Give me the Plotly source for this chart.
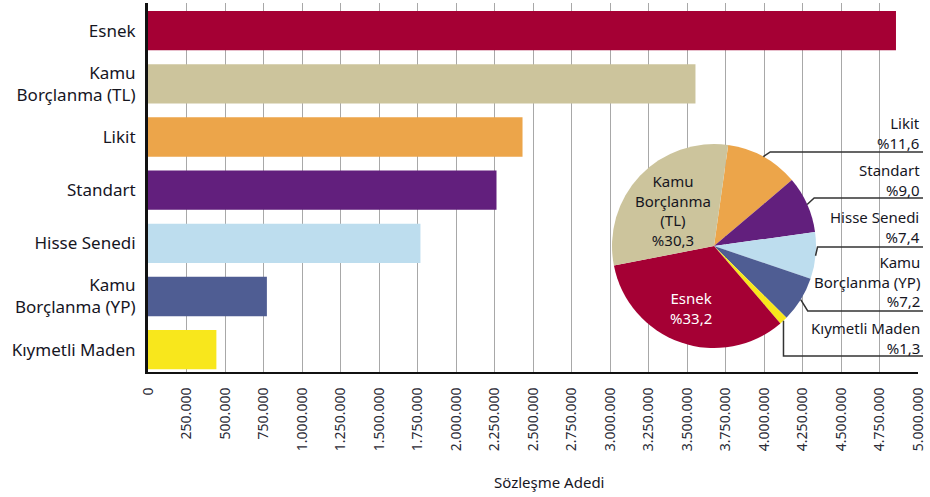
import math
import plotly.graph_objects as go

# ---- data ----
categories = ["Esnek", "Kamu<br>Borçlanma (TL)", "Likit", "Standart", "Hisse Senedi",
              "Kamu<br>Borçlanma (YP)", "Kıymetli Maden"]
contracts = [4857000, 3555000, 2432000, 2263000, 1769000, 772000, 444000]
bar_colors = ["#A50034", "#CCC49C", "#ECA54A", "#621F7D", "#BDDDEE", "#4F5D93", "#F8E71C"]

pie_labels = ["Likit", "Standart", "Hisse Senedi", "Kamu Borçlanma (YP)",
              "Kıymetli Maden", "Esnek", "Kamu Borçlanma (TL)"]
pie_share = [11.6, 9.0, 7.4, 7.2, 1.3, 33.2, 30.3]
pie_colors = ["#ECA54A", "#621F7D", "#BDDDEE", "#4F5D93", "#F8E71C", "#A50034", "#CCC49C"]
pie_text = ["Likit<br>%11,6", "Standart<br>%9,0", "Hisse Senedi<br>%7,4",
            "Kamu<br>Borçlanma (YP)<br>%7,2", "Kıymetli Maden<br>%1,3",
            "Esnek<br>%33,2", "Kamu<br>Borçlanma<br>(TL)<br>%30,3"]

x_ticks = list(range(0, 5000001, 250000))
x_title = "Sözleşme Adedi"

# ---- geometry (layout) ----
W, H = 930, 497
PL, PR, PT, PB = 148, 918, 3, 372
FONT = "Noto Sans"
TXT = "#16161f"

def px(xp):
    return (xp - PL) / (PR - PL)

def py(yp):
    return (PB - yp) / (PB - PT)

def xdata(xp):
    return (xp - PL) / (PR - PL) * 5000000

# pie placement in pixels
CX, CY, R = 714, 246, 102
ROT = 8

fig = go.Figure()
fig.add_trace(go.Bar(
    y=categories, x=contracts, orientation="h",
    marker=dict(color=bar_colors, line=dict(width=0)),
    width=0.74, hoverinfo="skip",
))
fig.add_trace(go.Pie(
    labels=pie_labels, values=pie_share, sort=False, direction="clockwise",
    rotation=ROT, marker=dict(colors=pie_colors, line=dict(width=0)),
    textinfo="none", hoverinfo="skip", showlegend=False,
    domain=dict(x=[px(CX - R), px(CX + R)], y=[py(CY + R), py(CY - R)]),
))

shapes = []
# white background behind pie and label area (covers gridlines)
shapes.append(dict(type="circle", xref="x", yref="paper",
                   x0=xdata(CX - R - 5), x1=xdata(CX + R + 5),
                   y0=py(CY + R + 5), y1=py(CY - R - 5),
                   fillcolor="white", line=dict(width=0), layer="between"))
shapes.append(dict(type="rect", xref="x", yref="paper",
                   x0=xdata(785), x1=xdata(926), y0=py(358), y1=py(128),
                   fillcolor="white", line=dict(width=0), layer="between"))

# leader lines for outside labels
line_y = [152, 198, 247, 311, 356]
block_center = [133, 180, 227, 281, 337.5]
total = sum(pie_share)
ang = ROT
mids = []
for v in pie_share:
    mids.append(ang + v / total * 360 / 2)
    ang += v / total * 360
LC = "#333333"
for i in range(5):
    a = math.radians(mids[i])
    sx = CX + R * math.sin(a)
    sy = CY - R * math.cos(a)
    ly = line_y[i]
    if i == 4:
        ex = sx
    elif i == 2:
        ex = sx + 2
    else:
        ex = sx + 7
    path = f"M {px(sx)},{py(sy)} L {px(ex)},{py(ly)} L {px(923)},{py(ly)}"
    shapes.append(dict(type="path", xref="paper", yref="paper", path=path,
                       line=dict(color=LC, width=1.5), layer="above"))

annotations = []
for i in range(5):
    annotations.append(dict(x=px(922), y=py(block_center[i]), xref="paper", yref="paper",
                            text=pie_text[i], showarrow=False, align="right",
                            xanchor="right", yanchor="middle",
                            font=dict(family=FONT, size=15, color=TXT)))
# inside labels
annotations.append(dict(x=px(691), y=py(307.5), xref="paper", yref="paper", text=pie_text[5],
                        showarrow=False, align="center", xanchor="center", yanchor="middle",
                        font=dict(family=FONT, size=15, color="white")))
annotations.append(dict(x=px(673), y=py(211), xref="paper", yref="paper", text=pie_text[6],
                        showarrow=False, align="center", xanchor="center", yanchor="middle",
                        font=dict(family=FONT, size=15, color=TXT)))
annotations.append(dict(x=px(549), y=py(482), xref="paper", yref="paper", text=x_title,
                        showarrow=False, xanchor="center", yanchor="middle",
                        font=dict(family=FONT, size=15, color=TXT)))

fig.update_layout(
    width=W, height=H,
    margin=dict(l=PL, r=W - PR, t=PT, b=H - PB, pad=0, autoexpand=False),
    paper_bgcolor="white", plot_bgcolor="white",
    separators=",.",
    showlegend=False,
    bargap=0.26,
    shapes=shapes, annotations=annotations,
    xaxis=dict(range=[0, 5000000], tickvals=x_ticks, tickformat=",d", tickangle=-90,
               showgrid=True, gridcolor="#A8A8A8", gridwidth=1.3,
               showline=True, linecolor="#111111", linewidth=2,
               ticks="", ticklabelstandoff=8, zeroline=False, automargin=False,
               tickfont=dict(family=FONT, size=14, color="#2a2a35")),
    yaxis=dict(categoryorder="array", categoryarray=categories,
               range=[6.42, -0.52], showgrid=False,
               showline=True, linecolor="#111111", linewidth=3,
               ticks="", ticklabelstandoff=6, zeroline=False, automargin=False,
               tickfont=dict(family=FONT, size=17, color=TXT)),
)

fig.write_html("out.html", config={"displayModeBar": False},
               post_script="document.body.style.margin='0';document.body.style.overflow='hidden';")
